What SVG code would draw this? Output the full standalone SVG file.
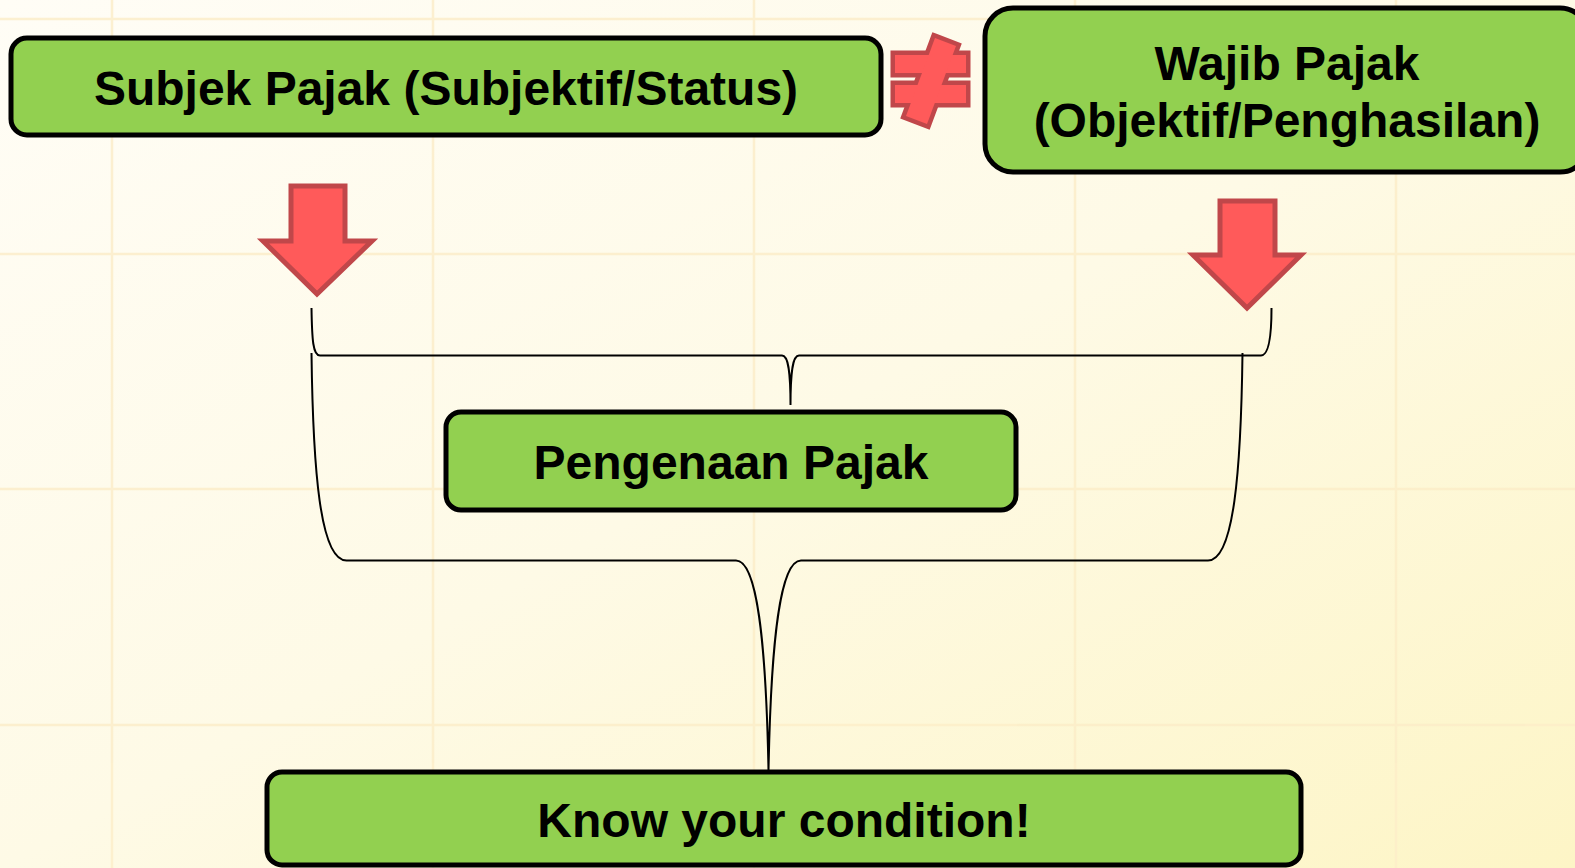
<svg xmlns="http://www.w3.org/2000/svg" width="1575" height="868" viewBox="0 0 1575 868">
  <defs>
    <linearGradient id="bg" x1="0" y1="0" x2="1" y2="1">
      <stop offset="0" stop-color="#fffdf6"/>
      <stop offset="0.5" stop-color="#fefae6"/>
      <stop offset="1" stop-color="#fdf5c6"/>
    </linearGradient>
    <style>
      .grid { stroke: #fcedc8; stroke-width: 2.5; fill: none; opacity: 0.8; }
      .box { fill: #92d050; stroke: #000; stroke-width: 5; }
      .label { font-family: "Liberation Sans", Arial, sans-serif; font-weight: bold; font-size: 48px; fill: #000; text-anchor: middle; }
      .conn { fill: none; stroke: #000; stroke-width: 2; }
      .red-edge { fill: #c0474a; stroke: #c0474a; stroke-width: 9; stroke-linejoin: miter; }
      .red-fill { fill: #ff5a5a; stroke: none; }
      .arrow { fill: #ff5a5a; stroke: #c0474a; stroke-width: 5; stroke-linejoin: miter; }
    </style>
  </defs>

  <!-- background and grid -->
  <rect x="0" y="0" width="1575" height="868" fill="url(#bg)"/>
  <g id="grid" class="grid">
    <line x1="112" y1="0" x2="112" y2="868"/>
    <line x1="433" y1="0" x2="433" y2="868"/>
    <line x1="754" y1="0" x2="754" y2="868"/>
    <line x1="1075" y1="0" x2="1075" y2="868"/>
    <line x1="1396" y1="0" x2="1396" y2="868"/>
    <line x1="0" y1="19" x2="1575" y2="19"/>
    <line x1="0" y1="254" x2="1575" y2="254"/>
    <line x1="0" y1="489" x2="1575" y2="489"/>
    <line x1="0" y1="725" x2="1575" y2="725"/>
  </g>

  <!-- connectors: braces joining both concepts -->
  <g id="connectors">
    <path class="conn" d="M 311.5 308 C 312 340, 313 355.5, 320 355.5 L 782 355.5 C 788 355.5, 790.5 370, 790.5 405 C 790.5 370, 793 355.5, 799 355.5 L 1261 355.5 C 1268 355.5, 1271.5 340, 1271.5 308"/>
    <path class="conn" d="M 311.5 353 C 313 470, 320 560.5, 346.5 560.5 L 736 560.5 C 757 560.5, 766 640, 768.5 771 C 771 640, 780 560.5, 801 560.5 L 1208 560.5 C 1234 560.5, 1241 470, 1242.5 353"/>
  </g>

  <!-- not-equal sign between the two concepts -->
  <g id="not-equal">
    <rect class="red-edge" x="895" y="55" width="71" height="18"/>
    <rect class="red-edge" x="895" y="85" width="71" height="18"/>
    <polygon class="red-edge" points="935,38 956,46 927,124 906,116"/>
    <rect class="red-fill" x="895" y="55" width="71" height="18"/>
    <rect class="red-fill" x="895" y="85" width="71" height="18"/>
    <polygon class="red-fill" points="935,38 956,46 927,124 906,116"/>
  </g>

  <g id="arrow-left">
    <polygon class="arrow" points="291,186 345,186 345,241 372,241 317,294 263,241 291,241"/>
  </g>
  <g id="arrow-right">
    <polygon class="arrow" points="1220,201 1275,201 1275,255 1301,255 1247,308 1193,255 1220,255"/>
  </g>

  <g id="subjek-pajak">
    <rect class="box" x="11" y="38" width="870" height="97" rx="16"/>
    <text class="label" x="446" y="105">Subjek Pajak (Subjektif/Status)</text>
  </g>

  <g id="wajib-pajak">
    <rect class="box" x="985" y="8" width="603" height="164" rx="28"/>
    <text class="label" x="1287" y="80">Wajib Pajak</text>
    <text class="label" x="1287" y="137">(Objektif/Penghasilan)</text>
  </g>

  <g id="pengenaan-pajak">
    <rect class="box" x="446" y="412" width="570" height="98" rx="15"/>
    <text class="label" x="731" y="479">Pengenaan Pajak</text>
  </g>

  <g id="know-condition">
    <rect class="box" x="267" y="772" width="1034" height="93" rx="15"/>
    <text class="label" x="784" y="837">Know your condition!</text>
  </g>
</svg>
